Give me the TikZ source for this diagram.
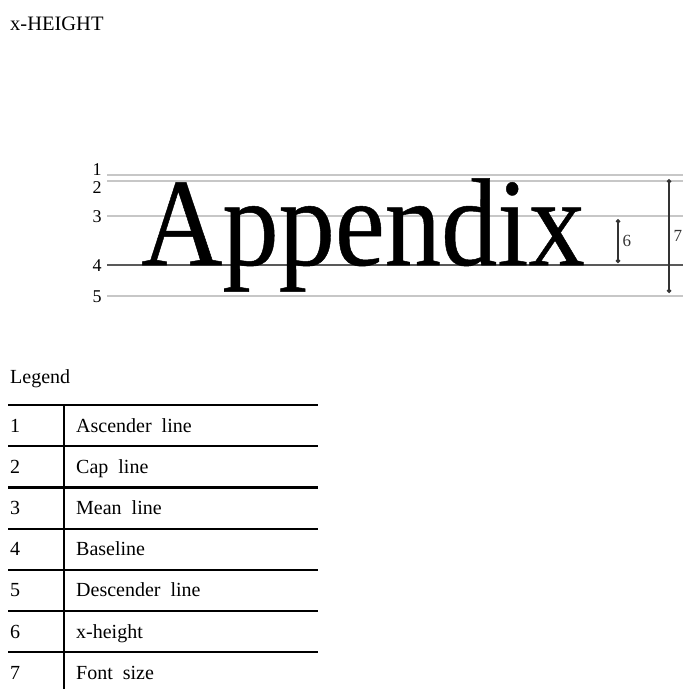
\documentclass[tikz,border=0pt]{standalone}
\usepackage{fontspec}
\setmainfont{Liberation Serif}
\newfontfamily\wordfont{Liberation Serif}[FakeBold=0.4]
\usetikzlibrary{arrows.meta, positioning}

\begin{document}
\begin{tikzpicture}[x=1pt, y=-1pt,
    guide/.style={line width=1.4pt, black!22},
    rule/.style={line width=2.2pt},
    dim/.style={line width=1.2pt, black!80, {Circle[length=4.5pt]}-{Circle[length=4.5pt]}},
    legtext/.style={anchor=base west, inner sep=0pt, font=\fontsize{20}{20}\selectfont},
    widetext/.style={legtext, execute at begin node={\spaceskip=0.5em\relax}},
    linenum/.style={inner sep=0pt, font=\fontsize{18}{18}\selectfont},
    dimnum/.style={right, inner sep=4pt, font=\fontsize{17}{17}\selectfont}]
\useasboundingbox (0,0) rectangle (683,689);

\node[legtext, font=\fontsize{20.5}{20.5}\selectfont] (title) at (10,30) {x-HEIGHT};

% guide lines behind the word
\foreach \n/\y/\ly in {1/175/170,2/181/188,3/216/217,4/265/266,5/296/297} {
    \coordinate (g\n) at (107,\y);
    \coordinate (e\n) at (683,\y);
    \draw[guide] (g\n) -- (e\n);
    \node[linenum] (n\n) at (97,\ly) {\n};
}
\draw[guide, black!65] (g4) -- (e4);

\node[anchor=base west, inner sep=0pt, font=\wordfont\fontsize{125}{125}\selectfont] (word) at (141,265) {\scalebox{0.9}[1]{Appendix}};

% x-height and font size
\coordinate (m6) at (618,219);
\coordinate (b6) at (618,263);
\draw[dim] (m6) -- node[dimnum] (lab6) {6} (b6);
\coordinate (a7) at (669,179);
\coordinate (d7) at (669,293);
\draw[dim] (a7) -- node[dimnum] (lab7) {7} (d7);

% legend table
\node[legtext] (legend) at (10,383) {Legend};
\foreach \i in {0,...,6} {
    \draw[rule] (8,{405+41.2*\i}) -- (318,{405+41.2*\i});
}
\coordinate (vtop) at (64,405);
\coordinate (vbot) at (64,689);
\draw[rule] (vtop) -- (vbot);

\foreach \i/\txt in {1/Ascender line,2/Cap line,3/Mean line,4/Baseline,5/Descender line,6/x-height,7/Font size} {
    \node[legtext] (k\i) at (10,{432+41.2*(\i-1)}) {\i};
    \node[widetext] (t\i) at (76,{432+41.2*(\i-1)}) {\txt};
}
\end{tikzpicture}
\end{document}
